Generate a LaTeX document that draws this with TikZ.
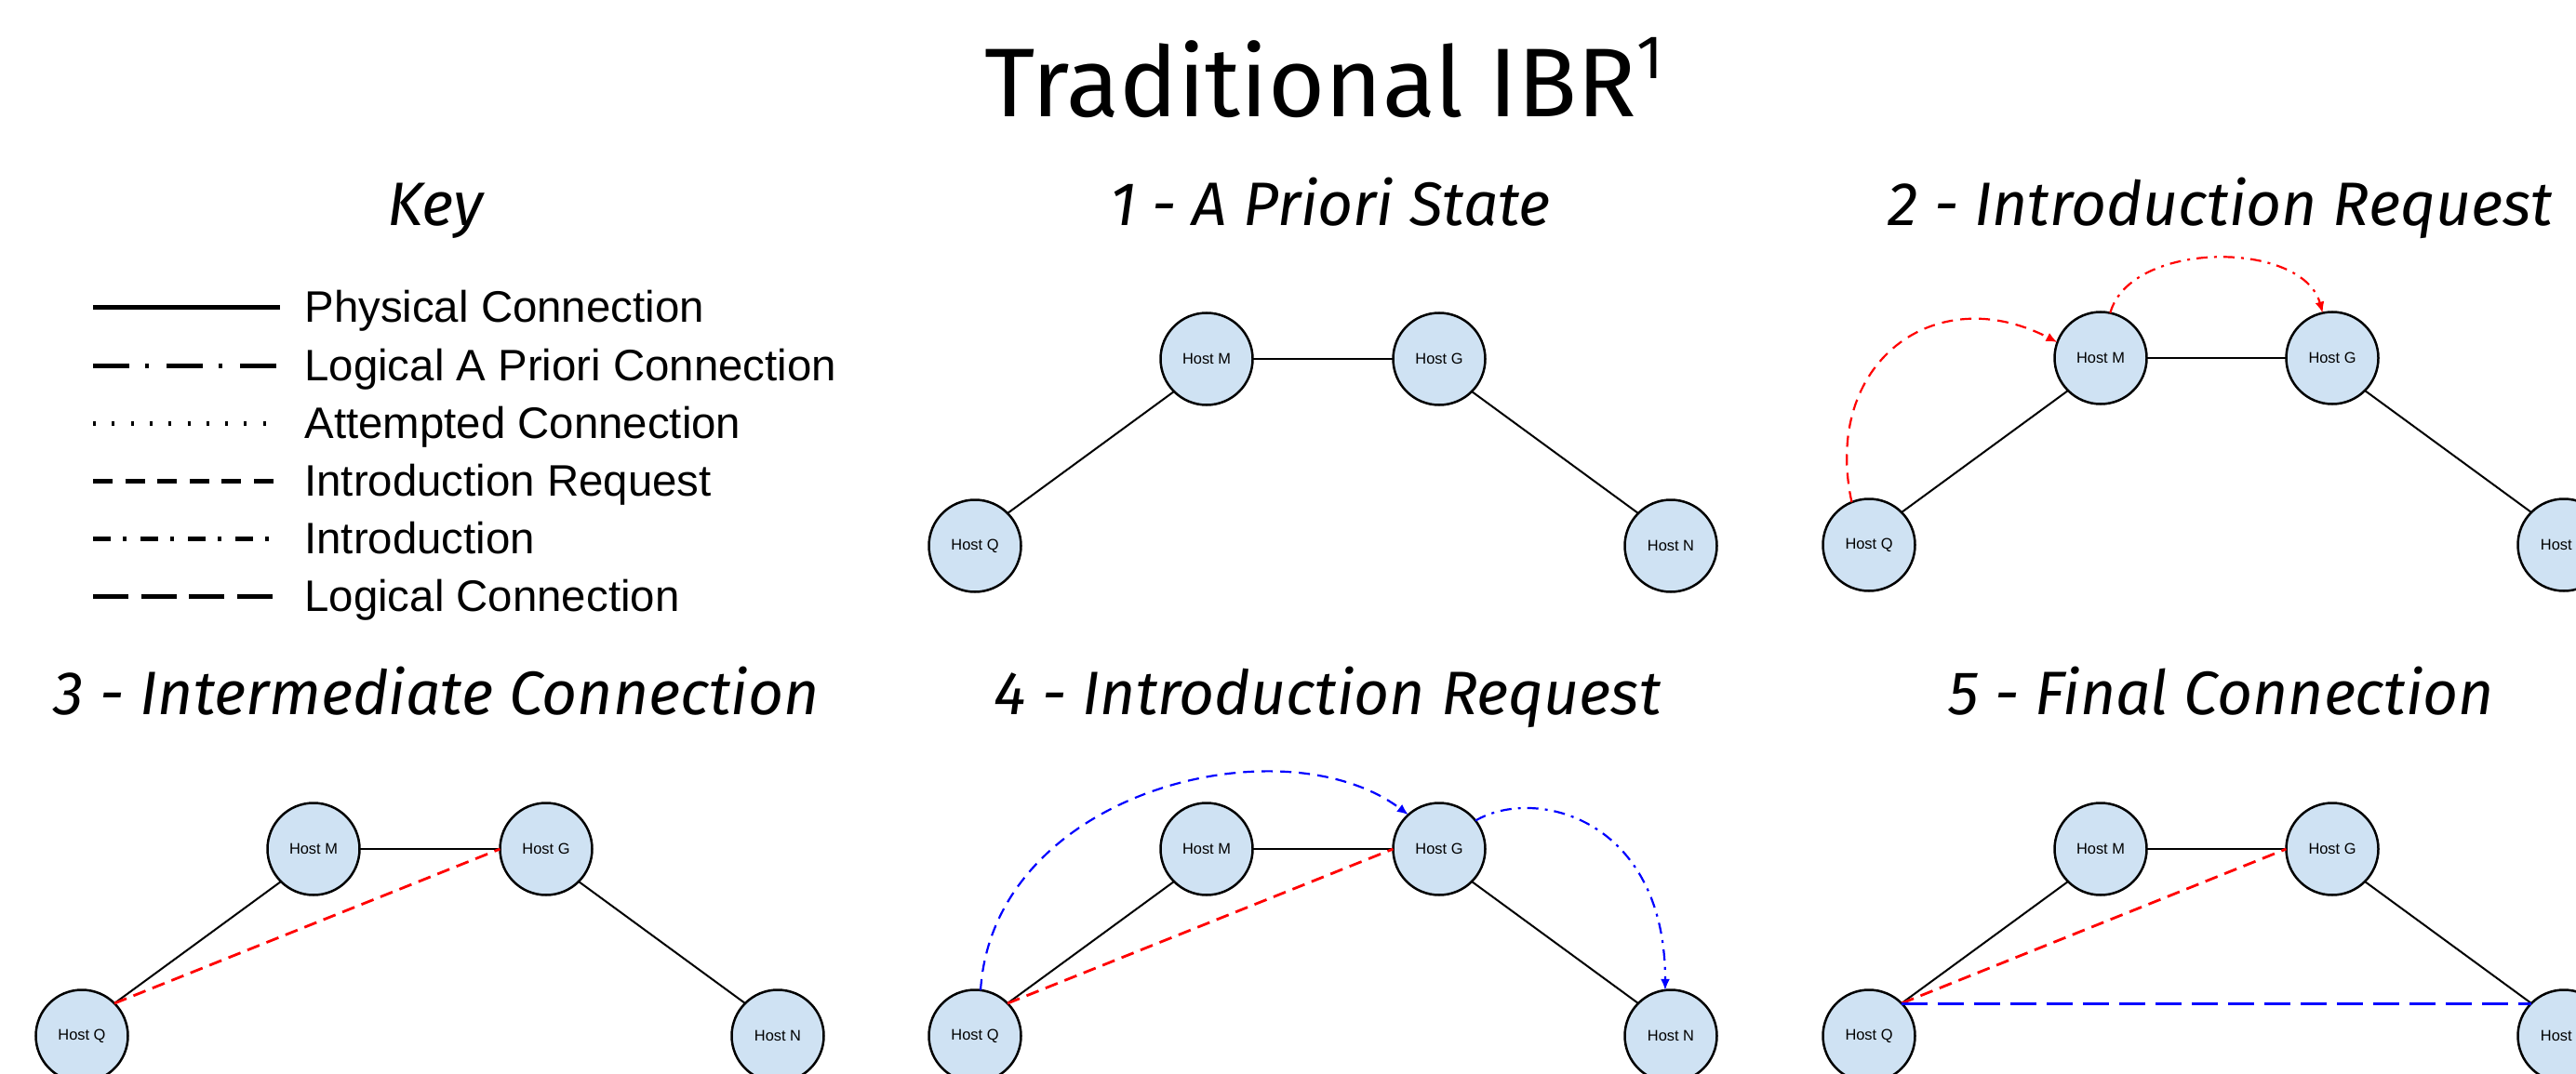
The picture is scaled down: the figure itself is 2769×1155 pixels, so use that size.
\documentclass[tikz,border=0pt]{standalone}
\usepackage{fontspec}
\newfontfamily\titlefont{Fira Sans}
\newfontfamily\arialfont{Liberation Sans}
\usetikzlibrary{arrows.meta}
\definecolor{hostfill}{HTML}{CFE2F3}
\tikzset{
  host/.style={circle, draw=black, fill=hostfill, line width=1.25pt, minimum size=49.5pt,
    inner sep=0pt, outer sep=0pt, font=\arialfont\fontsize{8.2}{9}\selectfont},
  phys/.style={draw=black, line width=1pt},
  ireq/.style={draw=red, line width=1.4pt, dash pattern=on 7pt off 4pt},
  ireqarc/.style={draw=red, line width=1.1pt, dash pattern=on 6pt off 4pt, -{Latex[length=6pt,width=5pt]}},
  introarc/.style={line width=1.1pt, dash pattern=on 6pt off 3.5pt on 1.5pt off 3.5pt, -{Latex[length=6pt,width=5pt]}},
  bluearc/.style={draw=blue, line width=1.1pt, dash pattern=on 6pt off 4pt, -{Latex[length=6pt,width=5pt]}},
  logical/.style={draw=blue, line width=1.5pt, dash pattern=on 14pt off 5.5pt},
  heading/.style={anchor=base, inner sep=0pt, font=\titlefont\itshape\fontsize{33}{36}\selectfont},
  keyline/.style={line width=2.5pt, draw=black},
  keytext/.style={anchor=base west, inner sep=0pt, font=\arialfont\fontsize{23.7}{26}\selectfont}
}
\begin{document}
\begin{tikzpicture}[x=0.5pt, y=-0.5pt]
\useasboundingbox (0,0) rectangle (2769,1155);
\clip (0,0) rectangle (2769,1155);

% Title
\node[anchor=base, inner sep=0pt, font=\titlefont\fontsize{52.5}{60}\selectfont] (title) at (1423,126)
  {Traditional IBR\raisebox{20.5pt}{\fontsize{33}{36}\selectfont 1}};

% Headings
\node[heading] (hkey) at (468,243) {Key};
\node[heading] (h1) at (1430,243) {1 - A Priori State};
\node[heading] (h2) at (2387,243) {2 - Introduction Request};
\node[heading] (h3) at (469,768) {3 - Intermediate Connection};
\node[heading] (h4) at (1427,768) {4 - Introduction Request};
\node[heading] (h5) at (2388,768) {5 - Final Connection};

% Key
\foreach \i/\y in {1/331,2/393,3/455,4/517,5/579,6/641}{
  \coordinate (ka\i) at (100,\y);
  \coordinate (kb\i) at (301,\y);
}
\draw[keyline] (ka1) -- (kb1);
\draw[keyline, dash pattern=on 19.5pt off 8.5pt on 2pt off 9.5pt] (ka2) -- (kb2);
\draw[keyline, dash pattern=on 1.5pt off 8.65pt] (ka3) -- (kb3);
\draw[keyline, dash pattern=on 10.5pt off 6.8pt] (ka4) -- (kb4);
\draw[keyline, dash pattern=on 9.5pt off 6.5pt on 2pt off 7.5pt] (ka5) -- (kb5);
\draw[keyline, dash pattern=on 19pt off 6.75pt] (ka6) -- (kb6);
\node[keytext] (t1) at (327,347) {Physical Connection};
\node[keytext] (t2) at (327,409) {Logical A Priori Connection};
\node[keytext] (t3) at (327,471) {Attempted Connection};
\node[keytext] (t4) at (327,533) {Introduction Request};
\node[keytext] (t5) at (327,595) {Introduction};
\node[keytext] (t6) at (327,657) {Logical Connection};

% Panel 1
\node[host] (q1) at (1048,587) {Host Q};
\node[host] (m1) at (1297,386) {Host M};
\node[host] (g1) at (1547,386) {Host G};
\node[host] (n1) at (1796,587) {Host N};
\draw[phys] (q1.45) -- (m1.225);
\draw[phys] (m1.east) -- (g1.west);
\draw[phys] (g1.-45) -- (n1.135);

% Panel 2
\node[host] (q2) at (2009,586) {Host Q};
\node[host] (m2) at (2258,385) {Host M};
\node[host] (g2) at (2507,385) {Host G};
\node[host] (n2) at (2756,586) {Host N};
\draw[phys] (q2.45) -- (m2.225);
\draw[phys] (m2.east) -- (g2.west);
\draw[phys] (g2.-45) -- (n2.135);
\draw[ireqarc] (q2.112) .. controls (1958,390) and (2080,300) .. (m2.160);
\draw[introarc, draw=red] (m2.78) .. controls (2290,258) and (2475,258) .. (g2.102);

% Panel 3
\node[host] (q3) at (88,1114) {Host Q};
\node[host] (m3) at (337,913) {Host M};
\node[host] (g3) at (587,913) {Host G};
\node[host] (n3) at (836,1114) {Host N};
\draw[phys] (q3.45) -- (m3.225);
\draw[phys] (m3.east) -- (g3.west);
\draw[phys] (g3.-45) -- (n3.135);
\draw[ireq] (q3.45) -- (g3.west);

% Panel 4
\node[host] (q4) at (1048,1114) {Host Q};
\node[host] (m4) at (1297,913) {Host M};
\node[host] (g4) at (1547,913) {Host G};
\node[host] (n4) at (1796,1114) {Host N};
\draw[phys] (q4.45) -- (m4.225);
\draw[phys] (m4.east) -- (g4.west);
\draw[phys] (g4.-45) -- (n4.135);
\draw[ireq] (q4.45) -- (g4.west);
\draw[bluearc] (q4.83) .. controls (1068,850) and (1380,775) .. (g4.132);
\draw[introarc, draw=blue] (g4.38) .. controls (1650,845) and (1790,880) .. (n4.97);

% Panel 5
\node[host] (q5) at (2009,1114) {Host Q};
\node[host] (m5) at (2258,913) {Host M};
\node[host] (g5) at (2507,913) {Host G};
\node[host] (n5) at (2756,1114) {Host N};
\draw[phys] (q5.45) -- (m5.225);
\draw[phys] (m5.east) -- (g5.west);
\draw[phys] (g5.-45) -- (n5.135);
\draw[ireq] (q5.45) -- (g5.west);
\draw[logical] (q5.45) -- (n5.135);
\end{tikzpicture}
\end{document}
